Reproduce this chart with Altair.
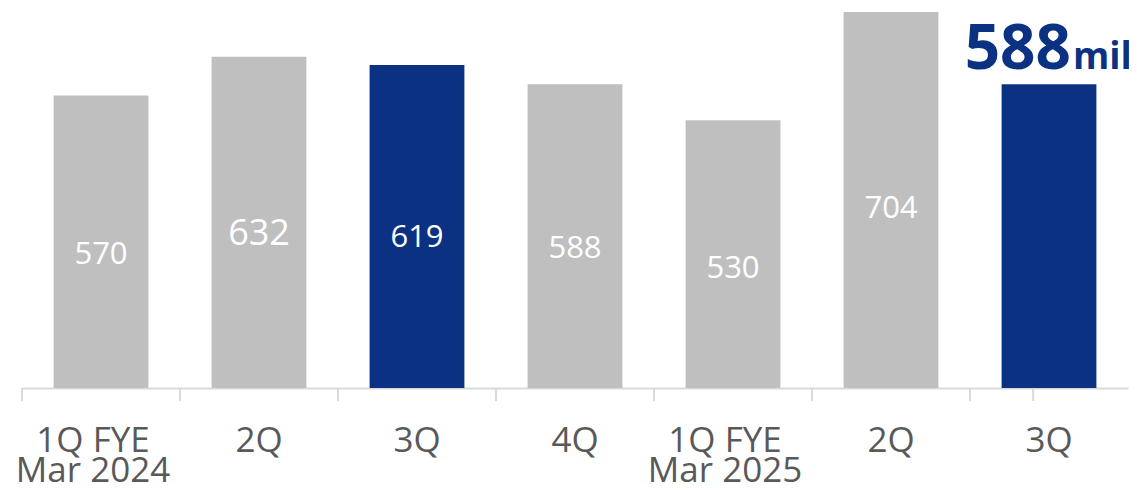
import json
import altair as alt
import pandas as pd

# ---- data ----
categories = ["1Q FYE\nMar 2024", "2Q", "3Q", "4Q", "1Q FYE\nMar 2025", "2Q", "3Q"]
values = [570, 632, 619, 588, 530, 704, 588]
highlight_idx = [2, 6]          # navy bars
callout_value = "588"
callout_unit = "mil"

NAVY = "#0B3282"
GRAY = "#BFBFBF"
AXIS_GRAY = "#D9D9D9"
FONT = "Open Sans"

n = len(values)
df = pd.DataFrame({"idx": list(range(n)), "value": values})
df["hl"] = df["idx"].isin(highlight_idx)

W = 1106
H = 380
STEP = W / n
P_IN = 0.4
half_gap = P_IN * STEP / 2

label_arr = json.dumps(categories)
y_scale = alt.Scale(domain=[100, 710.4], zero=False, nice=False)
x_scale = alt.Scale(paddingInner=P_IN, paddingOuter=0.2, round=False)

x_axis = alt.Axis(
    title=None,
    labelAngle=0,
    labelExpr=f"isDefined({label_arr}[datum.value]) ? split({label_arr}[datum.value], '\\n') : ''",
    labelFont=FONT,
    labelFontSize=35,
    labelColor="#595959",
    labelLineHeight=30,
    labelPadding=63,
    labelBaseline="alphabetic",
    labelOffset={
        "condition": {"test": f"indexof({label_arr}[datum.value] || '', '\\n') >= 0", "value": -8},
        "value": 0,
    },
    domainColor=AXIS_GRAY,
    domainWidth=2,
    ticks=False,
    grid=False,
)

base = alt.Chart(df)

bars = base.mark_bar().encode(
    x=alt.X("idx:O", scale=x_scale, axis=x_axis),
    y=alt.Y("value:Q", scale=y_scale, axis=None),
    y2=alt.datum(100),
    color=alt.condition("datum.hl", alt.value(NAVY), alt.value(GRAY)),
)

# category-boundary tick marks below the axis line
ticks_start = base.mark_rule(color=AXIS_GRAY, strokeWidth=2).encode(
    x=alt.X("idx:O", scale=x_scale, bandPosition=0),
    xOffset=alt.value(-half_gap),
    y=alt.value(H),
    y2=alt.value(H + 13),
)
ticks_end = base.transform_filter(f"datum.idx == {n - 1}").mark_rule(
    color=AXIS_GRAY, strokeWidth=2
).encode(
    x=alt.X("idx:O", scale=x_scale, bandPosition=1),
    xOffset=alt.value(half_gap),
    y=alt.value(H),
    y2=alt.value(H + 13),
)

inner = base.transform_filter(f"datum.idx < {n - 1}").transform_calculate(
    ly="datum.value * 0.55"
).mark_text(color="white", font=FONT, baseline="middle", align="center").encode(
    x=alt.X("idx:O", scale=x_scale),
    y=alt.Y("ly:Q", scale=y_scale),
    text=alt.Text("value:Q"),
    size=alt.condition("datum.idx == 1", alt.value(36), alt.value(31)),
)

last = base.transform_filter(f"datum.idx == {n - 1}")
callout_num = last.mark_text(
    color=NAVY, font=FONT, fontWeight="bold", fontSize=62,
    align="right", baseline="alphabetic", dx=22, dy=-15,
).encode(x=alt.X("idx:O", scale=x_scale), y=alt.Y("value:Q", scale=y_scale),
         text=alt.value(callout_value))
callout_unit_t = last.mark_text(
    color=NAVY, font=FONT, fontWeight="bold", fontSize=37,
    align="left", baseline="alphabetic", dx=24, dy=-15,
).encode(x=alt.X("idx:O", scale=x_scale), y=alt.Y("value:Q", scale=y_scale),
         text=alt.value(callout_unit))

chart = alt.layer(bars, ticks_start, ticks_end, inner, callout_num, callout_unit_t).properties(
    width=W,
    height=H,
    background="white",
    autosize=alt.AutoSizeParams(type="none"),
    padding={"left": 14, "top": 0, "right": 1, "bottom": 94},
).configure_view(strokeWidth=0, stroke="transparent")

chart.save("out.html", embed_options={"renderer": "svg", "actions": False})
